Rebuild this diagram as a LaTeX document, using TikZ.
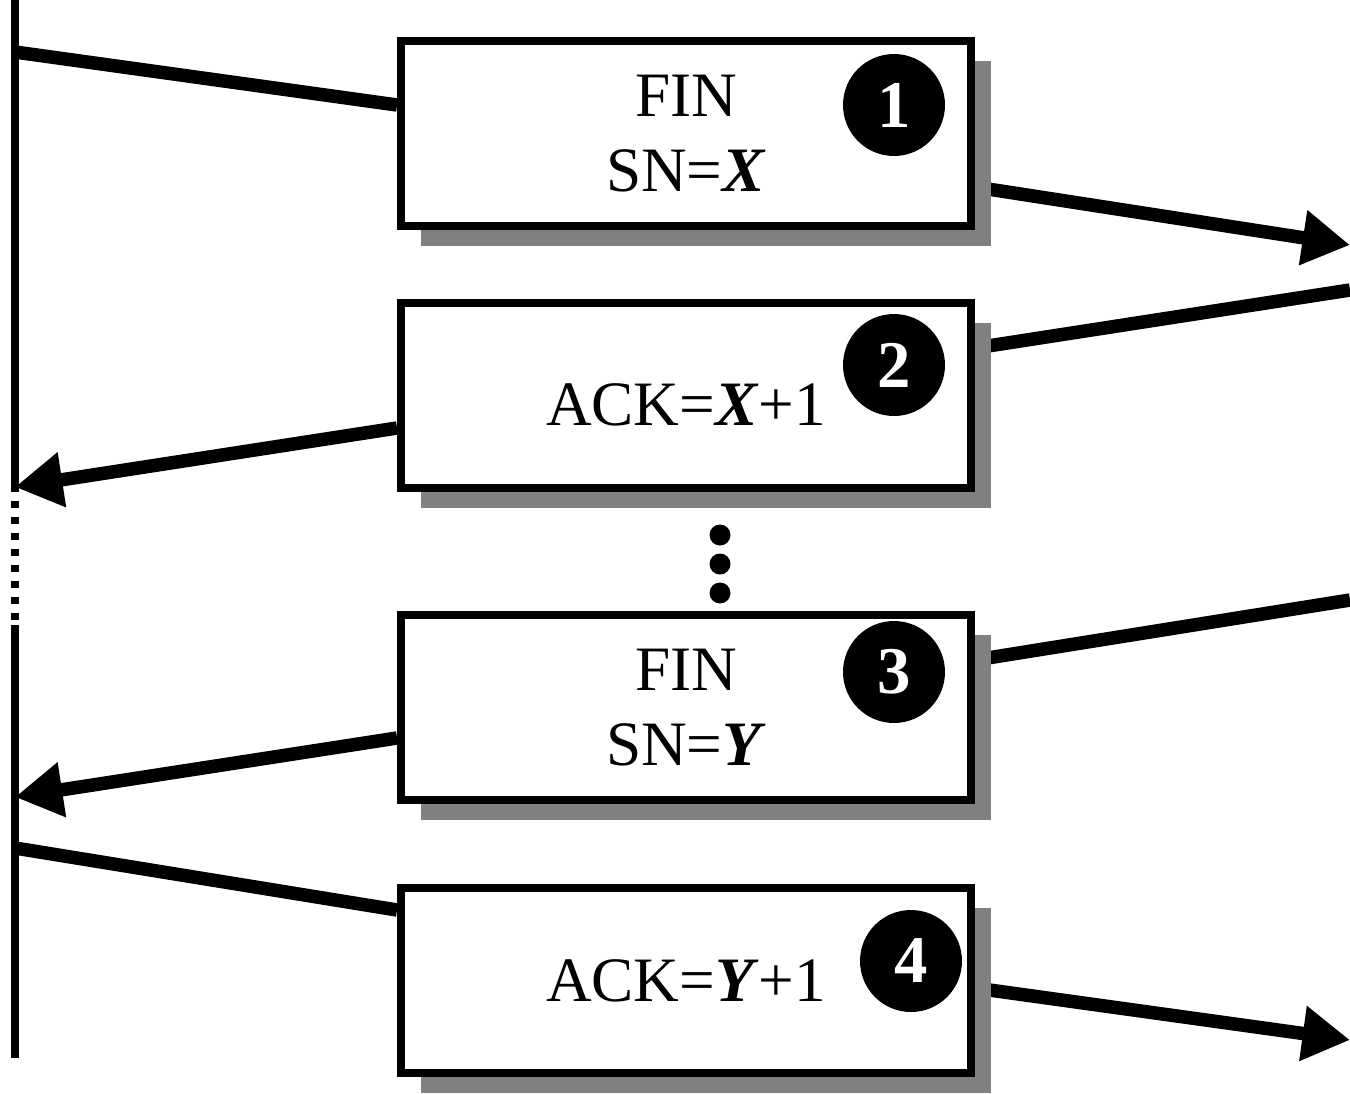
\documentclass[tikz,border=0pt]{standalone}
\usepackage{fontspec}
\setmainfont{Liberation Serif}
\usetikzlibrary{arrows.meta,shadows,backgrounds}

\tikzset{
	msgbox/.style={draw, line width=0.16cm, fill=white, minimum width=11.4cm, minimum height=3.7cm,
		align=center, inner sep=0pt, font=\fontsize{36}{43}\selectfont,
		drop shadow={shadow xshift=0.4cm, shadow yshift=-0.4cm, fill=black!50, opacity=1}},
	stepnum/.style={circle, fill=black, text=white, minimum size=2.04cm, inner sep=0pt,
		font=\fontsize{38}{38}\selectfont\bfseries},
	msgline/.style={line width=0.27cm},
	msgarrow/.style={msgline, -{Triangle[length=0.95cm,width=1.05cm]}},
	lifeline/.style={line width=0.15cm},
	vdot/.style={circle, fill=black, minimum size=0.42cm, inner sep=0pt}
}

\begin{document}
\begin{tikzpicture}[x=0.02cm,y=-0.02cm]
		\useasboundingbox (0,0) rectangle (1350,1093);

		% >>> segments
		\node[msgbox] (b1) at (686,133.5) {FIN\\SN=\textbf{\textit{X}}};
		\node[msgbox] (b2) at (686,395.5) {\\[-0.3cm]ACK=\textbf{\textit{X}}+1};
		\node[msgbox] (b3) at (686,707.5) {FIN\\SN=\textbf{\textit{Y}}};
		\node[msgbox] (b4) at (686,980.5) {ACK=\textbf{\textit{Y}}+1};

		\node[stepnum] (n1) at (894,105) {1};
		\node[stepnum] (n2) at (894,365) {2};
		\node[stepnum] (n3) at (894,672) {3};
		\node[stepnum] (n4) at (911,961) {4};

		\node[vdot] (d1) at (720,535) {};
		\node[vdot] (d2) at (720,564) {};
		\node[vdot] (d3) at (720,593) {};
		% <<< segments

		% >>> lifeline
		\coordinate (top) at (15,0);
		\coordinate (gapa) at (15,485);
		\coordinate (gapb) at (15,625);
		\coordinate (bottom) at (15,1058);
		\draw[lifeline] (top) -- (gapa);
		\draw[lifeline,dash pattern=on 0.14cm off 0.18cm] (gapa) -- (gapb);
		\draw[lifeline] (gapb) -- (bottom);
		% <<< lifeline

		% >>> messages
		\coordinate (l1) at (15,52);
		\coordinate (r1) at (1350,245);
		\coordinate (r2) at (1350,290);
		\coordinate (l2) at (15,487);
		\coordinate (r3) at (1350,600);
		\coordinate (l3) at (15,797);
		\coordinate (l4) at (15,848);
		\coordinate (r4) at (1350,1040);

		\begin{scope}[on background layer]
			\draw[msgline] (l1) -- ([yshift=0.57cm]b1.west);
			\draw[msgarrow] ([yshift=-1.07cm]b1.east) -- (r1);
			\draw[msgline] (r2) -- ([yshift=0.95cm]b2.east);
			\draw[msgarrow] ([yshift=-0.65cm]b2.west) -- (l2);
			\draw[msgline] (r3) -- ([yshift=0.95cm]b3.east);
			\draw[msgarrow] ([yshift=-0.61cm]b3.west) -- (l3);
			\draw[msgline] (l4) -- ([yshift=1.41cm]b4.west);
			\draw[msgarrow] ([yshift=-0.15cm]b4.east) -- (r4);
		\end{scope}
		% <<< messages

\end{tikzpicture}
\end{document}
